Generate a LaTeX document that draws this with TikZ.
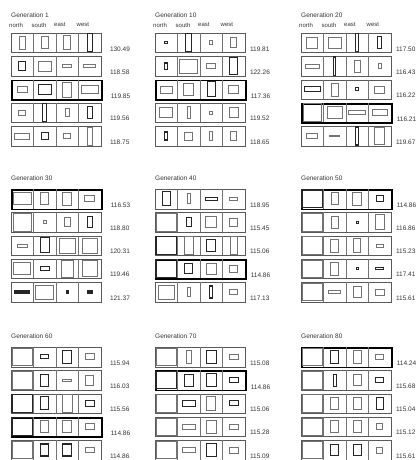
\documentclass[tikz,border=0pt]{standalone}
\usepackage{fontspec}
\setmainfont{Liberation Sans}
\usetikzlibrary{positioning}

% one row of four facades: x, y of top edge, box style, value, name, windows w/h/style
\newcommand{\winrow}[6]{%
  \node [#3, anchor=north west] (#5) at (#1,#2) {};
  \foreach \k in {1,2,3}
    \draw [divider] (#1+\k*22.5,#2) -- ++(0,19.5);
  \foreach \ww/\hh/\ss [count=\i] in {#6}
    \draw [\ss] (#1+\i*22.5-11.25-\ww/2,#2+9.75-\hh/2) rectangle ++(\ww,\hh);
  \node [val, anchor=west] (#5v) at ([xshift=\valgap pt, yshift=4.5pt]#5.south east) {#4};
}
\def\valgap{8}

\begin{document}
\begin{tikzpicture}[
    x=1pt, y=-1pt,
    rowbox/.style={rectangle, draw=black!65, line width=0.8pt, minimum width=90pt, minimum height=19.5pt, inner sep=0pt},
    bestbox/.style={rowbox, draw=black, line width=1.6pt},
    divider/.style={draw=black!55, line width=0.6pt},
    pane/.style={draw=black!55, line width=0.6pt},
    panebold/.style={draw=black!85, line width=1.1pt},
    title/.style={anchor=west, inner sep=0pt, text=black!80, font=\fontsize{6.5}{7}\selectfont},
    side/.style={anchor=west, inner sep=0pt, text=black!80, font=\fontsize{6}{7}\selectfont},
    val/.style={inner sep=0pt, text=black!80, font=\fontsize{6.5}{7}\selectfont}
]
\useasboundingbox (0,0) rectangle (418,460);

% Titles
\node [title] (gen1) at (11,15) {Generation 1};
\node [title] (gen10) at (155,15) {Generation 10};
\node [title] (gen20) at (301,15) {Generation 20};
\node [title] (gen30) at (11,178) {Generation 30};
\node [title] (gen40) at (155,178) {Generation 40};
\node [title] (gen50) at (301,178) {Generation 50};
\node [title] (gen60) at (11,336) {Generation 60};
\node [title] (gen70) at (155,336) {Generation 70};
\node [title] (gen80) at (301,336) {Generation 80};

% Side labels
\node [side] (nA) at (9,25) {north};
\node [side] (sA) at (31.5,25) {south};
\node [side] (eA) at (54,25) {east};
\node [side] (wA) at (76.5,25) {west};
\node [side] (nB) at (153,25) {north};
\node [side] (sB) at (175.5,25) {south};
\node [side] (eB) at (198,25) {east};
\node [side] (wB) at (220.5,25) {west};
\node [side] (nC) at (299,25) {north};
\node [side] (sC) at (321.5,25) {south};
\node [side] (eC) at (344,25) {east};
\node [side] (wC) at (366.5,25) {west};

% Generation 1
\winrow{11}{33}{rowbox}{130.49}{a1}{6/13/pane, 7/12/pane, 7/14/pane, 5/18/panebold}
\winrow{11}{56.3}{rowbox}{118.58}{a2}{7/9/panebold, 13/10/pane, 9/3/pane, 12/3/pane}
\winrow{11}{79.6}{bestbox}{119.85}{a3}{10/6/pane, 13/10/panebold, 9/15/pane, 17/8/pane}
\winrow{11}{102.9}{rowbox}{119.56}{a4}{7/5/pane, 4/18/panebold, 4/8/pane, 5/12/panebold}
\winrow{11}{126.2}{rowbox}{118.75}{a5}{15/6/pane, 7/7/panebold, 7/5/pane, 5/18/pane}

% Generation 30
\winrow{11}{189}{bestbox}{116.53}{d1}{18/12/pane, 8/12/pane, 9/13/pane, 10/6/pane}
\winrow{11}{212.3}{rowbox}{118.80}{d2}{18/18/pane, 3/3/pane, 6/9/pane, 5/11/panebold}
\winrow{11}{235.6}{rowbox}{120.31}{d3}{10/3/pane, 9/15/panebold, 16/15/pane, 15/15/pane}
\winrow{11}{258.9}{rowbox}{119.46}{d4}{17/12/pane, 9/4/panebold, 12/17/pane, 15/16/pane}
\winrow{11}{282.2}{rowbox}{121.37}{d5}{15/2/panebold, 18/14/pane, 2/2/panebold, 5/2/panebold}

% Generation 60
\winrow{11}{347}{rowbox}{115.94}{g1}{20.5/17.5/pane, 8/4/panebold, 9/13/panebold, 9/6/pane}
\winrow{11}{370.3}{rowbox}{116.03}{g2}{20.5/17.5/pane, 8/12/panebold, 9/2/pane, 8/10/pane}
\winrow{11}{393.6}{rowbox}{115.56}{g3}{20.5/17.5/panebold, 8/13/panebold, 10/18/pane, 9/6/panebold}
\winrow{11}{416.9}{bestbox}{114.86}{g4}{20.5/17.5/panebold, 8/12/pane, 9/12/pane, 9/6/pane}
\winrow{11}{440.2}{rowbox}{114.86}{g5}{20.5/17.5/pane, 8/12/panebold, 9/12/panebold, 9/5/pane}

\def\valgap{4}
% Generation 10
\winrow{155}{33}{rowbox}{119.81}{b1}{3/2/panebold, 6/18/panebold, 3/4/pane, 6/10/pane}
\winrow{155}{56.3}{rowbox}{122.26}{b2}{3/6/panebold, 18/14/pane, 9/5/pane, 8/17/panebold}
\winrow{155}{79.6}{bestbox}{117.36}{b3}{12/7/pane, 10/12/pane, 8/15/panebold, 10/8/pane}
\winrow{155}{102.9}{rowbox}{119.52}{b4}{13/10/pane, 3/12/pane, 3/3/pane, 9/10/pane}
\winrow{155}{126.2}{rowbox}{118.65}{b5}{3/8/panebold, 8/8/pane, 3/9/pane, 6/9/pane}

% Generation 40
\winrow{155}{189}{rowbox}{118.95}{e1}{8/14/panebold, 3/10/pane, 12/3/panebold, 8/3/pane}
\winrow{155}{212.3}{rowbox}{115.45}{e2}{20.5/17.5/pane, 5/9/panebold, 11/11/pane, 8/8/pane}
\winrow{155}{235.6}{rowbox}{115.06}{e3}{20.5/17.5/panebold, 9/18/pane, 9/12/panebold, 7/18/pane}
\winrow{155}{258.9}{bestbox}{114.86}{e4}{20.5/17.5/panebold, 8/10/panebold, 10/11/pane, 8/7/pane}
\winrow{155}{282.2}{rowbox}{117.13}{e5}{16/14/pane, 3/9/pane, 3/12/panebold, 8/5/pane}

% Generation 70
\winrow{155}{347}{rowbox}{115.08}{h1}{20.5/17.5/pane, 5/13/pane, 10/13/panebold, 9/5/pane}
\winrow{155}{370.3}{bestbox}{114.86}{h2}{20.5/17.5/panebold, 9/12/panebold, 10/13/panebold, 9/5/panebold}
\winrow{155}{393.6}{rowbox}{115.06}{h3}{20.5/17.5/pane, 13/6/panebold, 9/14/pane, 9/5/panebold}
\winrow{155}{416.9}{rowbox}{115.28}{h4}{20.5/17.5/pane, 13/5/pane, 10/13/pane, 9/5/pane}
\winrow{155}{440.2}{rowbox}{115.09}{h5}{20.5/17.5/pane, 13/5/pane, 10/13/panebold, 9/6/pane}

% Generation 20
\winrow{301}{33}{rowbox}{117.50}{c1}{11/11/pane, 13/11/pane, 3/18/panebold, 4/12/panebold}
\winrow{301}{56.3}{rowbox}{116.43}{c2}{14/4/pane, 2/18/panebold, 6/12/pane, 3/5/pane}
\winrow{301}{79.6}{rowbox}{116.22}{c3}{16/5/panebold, 7/13/pane, 3/3/panebold, 10/7/pane}
\winrow{301}{102.9}{bestbox}{116.21}{c4}{18/18/pane, 15/12/pane, 17/4/pane, 15/6/pane}
\winrow{301}{126.2}{rowbox}{119.67}{c5}{11/5/pane, 10/1/pane, 3/18/panebold, 10/17/pane}

% Generation 50
\winrow{301}{189}{bestbox}{114.86}{f1}{20.5/17.5/panebold, 7/12/pane, 9/13/pane, 7/6/panebold}
\winrow{301}{212.3}{rowbox}{116.86}{f2}{20.5/17.5/pane, 7/12/pane, 2/2/panebold, 9/15/pane}
\winrow{301}{235.6}{rowbox}{115.23}{f3}{20.5/17.5/pane, 8/13/pane, 7/14/pane, 7/3/pane}
\winrow{301}{258.9}{rowbox}{117.41}{f4}{20.5/17.5/pane, 8/13/pane, 2/2/panebold, 8/2/panebold}
\winrow{301}{282.2}{rowbox}{115.61}{f5}{20.5/17.5/pane, 12/3/pane, 8/11/pane, 9/6/pane}

% Generation 80
\winrow{301}{347}{bestbox}{114.24}{i1}{20.5/17.5/pane, 8/13/panebold, 8/13/pane, 8/5/pane}
\winrow{301}{370.3}{rowbox}{115.68}{i2}{20.5/17.5/pane, 3/12/panebold, 8/11/pane, 8/5/panebold}
\winrow{301}{393.6}{rowbox}{115.04}{i3}{20.5/17.5/pane, 8/12/pane, 8/12/pane, 7/12/panebold}
\winrow{301}{416.9}{rowbox}{115.12}{i4}{20.5/17.5/pane, 8/12/pane, 8/12/pane, 6/6/pane}
\winrow{301}{440.2}{rowbox}{115.61}{i5}{20.5/17.5/pane, 8/11/panebold, 8/11/panebold, 6/6/pane}
\end{tikzpicture}
\end{document}
